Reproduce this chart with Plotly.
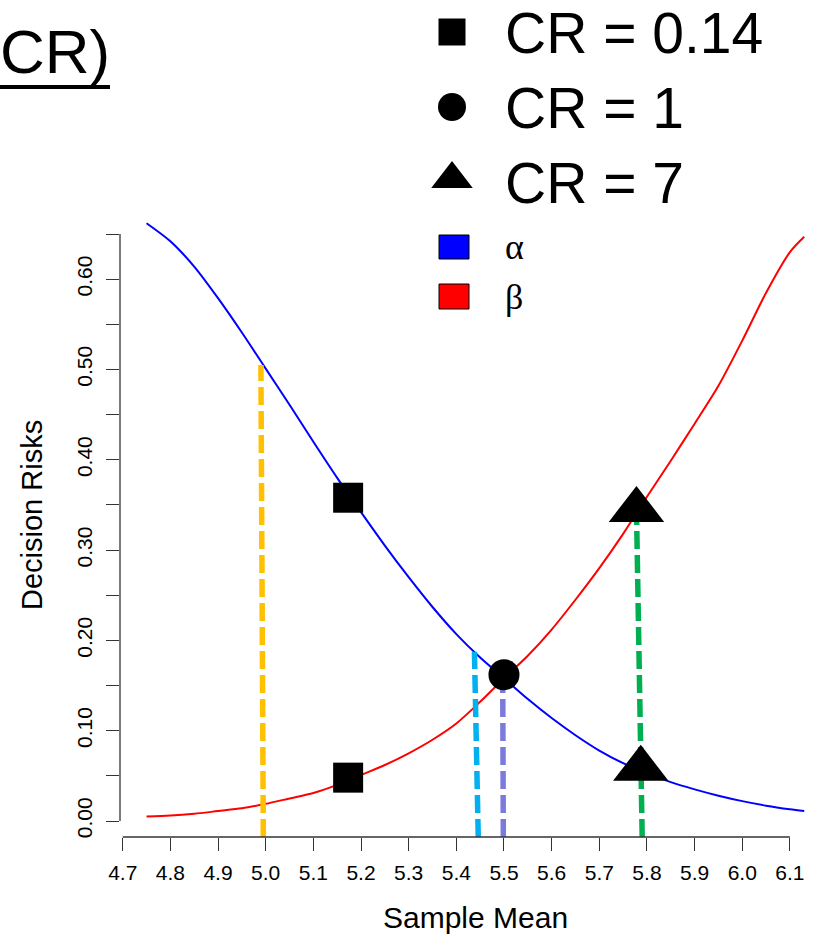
import plotly.graph_objects as go

# ---------------- data ----------------
sample_mean = [4.75, 4.80, 4.85, 4.90, 4.95, 5.00, 5.05, 5.10, 5.15, 5.20,
               5.25, 5.30, 5.35, 5.40, 5.45, 5.50, 5.55, 5.60, 5.65, 5.70,
               5.75, 5.80, 5.85, 5.90, 5.95, 6.00, 6.05, 6.10, 6.13]
alpha_risk = [0.662, 0.642, 0.614, 0.579, 0.541, 0.501, 0.461, 0.420, 0.380, 0.342,
              0.305, 0.270, 0.237, 0.207, 0.181, 0.158, 0.135, 0.114, 0.095, 0.078,
              0.064, 0.053, 0.043, 0.035, 0.028, 0.022, 0.017, 0.013, 0.011]
beta_risk = [0.005, 0.006, 0.008, 0.011, 0.014, 0.019, 0.025, 0.031, 0.040, 0.051,
             0.062, 0.075, 0.090, 0.108, 0.132, 0.158, 0.183, 0.212, 0.245, 0.280,
             0.318, 0.359, 0.399, 0.440, 0.482, 0.532, 0.585, 0.630, 0.647]

# CR marker points
cr_labels = ["CR = 0.14", "CR = 1", "CR = 7"]
sq_x = [5.173, 5.173]
sq_y = [0.358, 0.048]
circ_x = [5.500]
circ_y = [0.162]
tri_x = [5.778, 5.787]
tri_y = [0.3445, 0.0578]

# vertical dashed guide lines: (bottom x, top x, top y)
guide_bottom_x = [4.995, 5.446, 5.4986, 5.790]
guide_top_x = [4.990, 5.438, 5.4973, 5.778]
guide_top_y = [0.505, 0.1875, 0.162, 0.3445]
guide_colors = ["#FFC000", "#00B0F0", "#7B7BDE", "#00B050"]

x_tick_vals = [4.7, 4.8, 4.9, 5.0, 5.1, 5.2, 5.3, 5.4, 5.5, 5.6, 5.7, 5.8, 5.9, 6.0, 6.1]
x_tick_text = ["4.7", "4.8", "4.9", "5.0", "5.1", "5.2", "5.3", "5.4", "5.5",
               "5.6", "5.7", "5.8", "5.9", "6.0", "6.1"]
y_tick_vals = [0.00, 0.05, 0.10, 0.15, 0.20, 0.25, 0.30, 0.35, 0.40, 0.45,
               0.50, 0.55, 0.60, 0.65]
y_tick_text = ["0.00", "", "0.10", "", "0.20", "", "0.30", "", "0.40", "",
               "0.50", "", "0.60", ""]

# ---------------- layout geometry (pixels) ----------------
W, H = 813, 934
PL, PR, PT, PB = 120, 813, 194, 837
X_RANGE = [4.6943, 6.1484]
Y_RANGE = [-0.01772, 0.69435]

SANS = "Liberation Sans, Arial, sans-serif"
SERIF = "Liberation Serif, Times New Roman, serif"
AX_COL = "#333333"

fig = go.Figure()

# curves
fig.add_trace(go.Scatter(x=sample_mean, y=alpha_risk, mode="lines",
                         line=dict(color="#0000FF", width=2, shape="spline", smoothing=0.8),
                         showlegend=False))
fig.add_trace(go.Scatter(x=sample_mean, y=beta_risk, mode="lines",
                         line=dict(color="#FF0000", width=2, shape="spline", smoothing=0.8),
                         showlegend=False))

# dashed guides
for xb, xt, yt, c in zip(guide_bottom_x, guide_top_x, guide_top_y, guide_colors):
    fig.add_trace(go.Scatter(x=[xb, xt], y=[Y_RANGE[0], yt], mode="lines",
                             line=dict(color=c, width=5.5, dash="18px,6px"),
                             showlegend=False))

# markers
fig.add_trace(go.Scatter(x=sq_x, y=sq_y, mode="markers",
                         marker=dict(symbol="square", size=30, color="black"),
                         showlegend=False, cliponaxis=False))
fig.add_trace(go.Scatter(x=circ_x, y=circ_y, mode="markers",
                         marker=dict(symbol="circle", size=31, color="black"),
                         showlegend=False, cliponaxis=False))
fig.add_trace(go.Scatter(x=tri_x, y=tri_y, mode="markers",
                         marker=dict(symbol="triangle-up", size=48, color="black"),
                         showlegend=False, cliponaxis=False))

# legend symbols on a pixel-space overlay axis
leg_sym = ["square", "circle", "triangle-up"]
leg_size = [27, 28, 36]
leg_py = [32, 107, 179]
for s, sz, py in zip(leg_sym, leg_size, leg_py):
    fig.add_trace(go.Scatter(x=[452], y=[py], xaxis="x2", yaxis="y2", mode="markers",
                             marker=dict(symbol=s, size=sz, color="black"),
                             showlegend=False, cliponaxis=False))

annotations = []
for lab, py in zip(cr_labels, [33, 108, 183]):
    annotations.append(dict(text=lab, x=503 / W, y=1 - py / H, xref="paper", yref="paper",
                            xanchor="left", yanchor="middle", showarrow=False,
                            font=dict(family=SANS, size=57, color="black")))
for lab, py in zip(["α", "β"], [247, 297]):
    annotations.append(dict(text=lab, x=503 / W, y=1 - py / H, xref="paper", yref="paper",
                            xanchor="left", yanchor="middle", showarrow=False,
                            font=dict(family=SERIF, size=36, color="black")))
# axis titles
annotations.append(dict(text="Sample Mean", x=475 / W, y=1 - 917 / H, xref="paper", yref="paper",
                        xanchor="center", yanchor="middle", showarrow=False,
                        font=dict(family=SANS, size=30, color="black")))
annotations.append(dict(text="Decision Risks", x=32 / W, y=1 - 515 / H, xref="paper", yref="paper",
                        xanchor="center", yanchor="middle", showarrow=False, textangle=-90,
                        font=dict(family=SANS, size=29, color="black")))
# cropped title
annotations.append(dict(text="CR)", x=112 / W, y=1 - 52 / H, xref="paper", yref="paper",
                        xanchor="right", yanchor="middle", showarrow=False,
                        font=dict(family=SANS, size=62, color="black")))

shapes = [
    # legend fill boxes
    dict(type="rect", xref="paper", yref="paper", x0=439 / W, x1=469 / W,
         y0=1 - 259 / H, y1=1 - 235 / H, fillcolor="#0000FF", line=dict(color="black", width=1)),
    dict(type="rect", xref="paper", yref="paper", x0=439 / W, x1=469 / W,
         y0=1 - 309 / H, y1=1 - 284 / H, fillcolor="#FF0000", line=dict(color="black", width=1)),
    # title underline
    dict(type="line", xref="paper", yref="paper", x0=0, x1=110 / W,
         y0=1 - 87 / H, y1=1 - 87 / H, line=dict(color="black", width=4)),
    # R-style detached axis lines
    dict(type="line", xref="x", yref="paper", x0=x_tick_vals[0], x1=x_tick_vals[-1],
         y0=1 - PB / H, y1=1 - PB / H, line=dict(color=AX_COL, width=1.3)),
    dict(type="line", xref="paper", yref="y", x0=PL / W, x1=PL / W,
         y0=y_tick_vals[0], y1=y_tick_vals[-1], line=dict(color=AX_COL, width=1.3)),
]

fig.update_layout(
    width=W, height=H,
    margin=dict(l=0, r=0, t=0, b=0, autoexpand=False),
    paper_bgcolor="white", plot_bgcolor="rgba(0,0,0,0)",
    showlegend=False,
    xaxis=dict(domain=[PL / W, 1], range=X_RANGE, showgrid=False, zeroline=False,
               showline=False, tickmode="array", tickvals=x_tick_vals, ticktext=x_tick_text,
               ticks="outside", ticklen=13, tickwidth=1.3, tickcolor=AX_COL,
               ticklabelstandoff=4, automargin=False,
               tickfont=dict(family=SANS, size=21, color="black"), anchor="y"),
    yaxis=dict(domain=[1 - PB / H, 1 - PT / H], range=Y_RANGE, showgrid=False, zeroline=False,
               showline=False, tickmode="array", tickvals=y_tick_vals, ticktext=y_tick_text,
               ticks="outside", ticklen=13, tickwidth=1.3, tickcolor=AX_COL, tickangle=-90,
               ticklabelstandoff=6, automargin=False,
               tickfont=dict(family=SANS, size=21, color="black"), anchor="x"),
    xaxis2=dict(domain=[0, 1], range=[0, W], visible=False, anchor="y2", fixedrange=True,
                automargin=False),
    yaxis2=dict(domain=[0, 1], range=[H, 0], visible=False, anchor="x2", fixedrange=True,
                automargin=False),
    annotations=annotations,
    shapes=shapes,
)

fig.write_html("out.html")
